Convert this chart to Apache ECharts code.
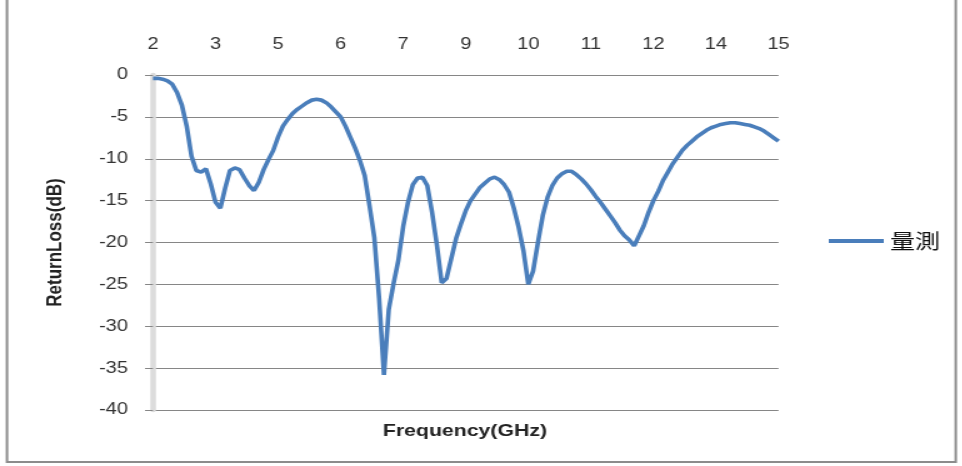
<!DOCTYPE html>
<html>
<head>
<meta charset="utf-8">
<script src="https://cdn.jsdelivr.net/npm/echarts@6/dist/echarts.min.js"></script>
<style>
html,body{margin:0;padding:0;background:#fff;overflow:hidden;width:962px;height:466px;}
#chart{width:769.6px;height:466px;transform:scaleX(1.25);transform-origin:0 0;}
</style>
</head>
<body>
<div id="chart"></div>
<script>
// Frequency categories (GHz)
var frequencies = ['2.0','2.1','2.2','2.3','2.4','2.5','2.6','2.7','2.8','2.9',
'3.0','3.1','3.2','3.3','3.4','3.5','3.6','3.7','3.8','3.9',
'4.0','4.1','4.2','4.3','4.4','4.5','4.6','4.7','4.8','4.9',
'5.0','5.1','5.2','5.3','5.4','5.5','5.6','5.7','5.8','5.9',
'6.0','6.1','6.2','6.3','6.4','6.5','6.6','6.7','6.8','6.9',
'7.0','7.1','7.2','7.3','7.4','7.5','7.6','7.7','7.8','7.9',
'8.0','8.1','8.2','8.3','8.4','8.5','8.6','8.7','8.8','8.9',
'9.0','9.1','9.2','9.3','9.4','9.5','9.6','9.7','9.8','9.9',
'10.0','10.1','10.2','10.3','10.4','10.5','10.6','10.7','10.8','10.9',
'11.0','11.1','11.2','11.3','11.4','11.5','11.6','11.7','11.8','11.9',
'12.0','12.1','12.2','12.3','12.4','12.5','12.6','12.7','12.8','12.9',
'13.0','13.1','13.2','13.3','13.4','13.5','13.6','13.7','13.8','13.9',
'14.0','14.1','14.2','14.3','14.4','14.5','14.6','14.7','14.8','14.9',
'15.0'];

// Measured return loss (dB)
var returnLoss = [-0.4,-0.4,-0.5,-0.7,-1.1,-2.1,-3.6,-6.1,-9.7,-11.4,
-11.6,-11.2,-13.0,-15.2,-15.9,-13.5,-11.4,-11.1,-11.3,-12.3,
-13.2,-13.8,-12.8,-11.3,-10.1,-9.0,-7.4,-6.1,-5.3,-4.6,
-4.1,-3.7,-3.3,-3.0,-2.9,-3.0,-3.3,-3.8,-4.4,-5.0,
-6.1,-7.4,-8.7,-10.2,-12.0,-15.6,-19.4,-26.7,-35.8,-28.0,
-24.9,-22.1,-18.1,-15.2,-13.1,-12.3,-12.2,-13.2,-16.4,-20.3,
-24.8,-24.3,-21.9,-19.5,-17.8,-16.2,-15.0,-14.2,-13.4,-12.9,
-12.4,-12.2,-12.5,-13.1,-14.0,-15.9,-18.2,-21.0,-25.0,-23.4,
-20.0,-16.8,-14.6,-13.2,-12.3,-11.8,-11.5,-11.5,-11.9,-12.4,
-13.0,-13.7,-14.5,-15.2,-16.0,-16.8,-17.6,-18.5,-19.2,-19.7,
-20.4,-19.2,-18.0,-16.4,-15.0,-13.9,-12.6,-11.6,-10.6,-9.8,
-9.0,-8.4,-7.9,-7.4,-7.0,-6.6,-6.3,-6.1,-5.9,-5.8,
-5.7,-5.7,-5.8,-5.9,-6.0,-6.2,-6.4,-6.7,-7.1,-7.5,
-7.9];

// Tick labels shown on the top category axis (every 13th category)
var xTickLabels = ['2','3','5','6','7','9','10','11','12','14','15'];
var seriesName = '量測';
var yAxisTitle = 'ReturnLoss(dB)';
var xAxisTitle = 'Frequency(GHz)';

var chart = echarts.init(document.getElementById('chart'), null, {renderer:'canvas'});
var FONT = '"Liberation Sans", Arial, sans-serif';
chart.setOption({
  animation:false,
  backgroundColor:'#fff',
  grid:{left:122.4, right:147.2, top:75, bottom:56},
  legend:{
    data:[seriesName],
    left:658, top:226,
    icon:'rect', itemWidth:44, itemHeight:4,
    textStyle:{fontFamily:'"Noto Sans CJK TC", sans-serif', fontSize:20, color:'#111'}
  },
  xAxis:{
    type:'category', position:'top', boundaryGap:false, data:frequencies,
    axisLine:{show:false}, axisTick:{show:false},
    axisLabel:{interval:12, margin:22, fontFamily:FONT, fontSize:16, color:'#333',
      formatter:function(v, i){ return xTickLabels[Math.round(i/13)]; }},
    splitLine:{show:false}
  },
  yAxis:{
    type:'value', min:-40, max:0, interval:5,
    name:yAxisTitle, nameLocation:'middle', nameRotate:90, nameGap:70,
    nameTextStyle:{fontFamily:FONT, fontSize:17, fontWeight:'bold', color:'#222'},
    axisLine:{show:true, lineStyle:{color:'#dcdcdc', width:4.5}},
    axisTick:{show:true, length:6.4, lineStyle:{color:'#868686', width:1}},
    axisLabel:{margin:20, fontFamily:FONT, fontSize:16, color:'#333'},
    splitLine:{show:true, lineStyle:{color:'#868686', width:1}}
  },
  graphic:[
    {type:'rect', shape:{x:5.6, y:-4, width:759, height:466}, style:{fill:'none', stroke:'#8c8c8c', lineWidth:2}, silent:true},
    {type:'text', x:372, y:431, style:{text:xAxisTitle, fontFamily:FONT, fontSize:17, fontWeight:'bold', fill:'#222', textAlign:'center', textVerticalAlign:'middle'}}
  ],
  series:[{
    name:seriesName, type:'line', data:returnLoss,
    showSymbol:false, symbol:'none', smooth:false,
    lineStyle:{color:'#4a7ebb', width:3.6},
    itemStyle:{color:'#4a7ebb'}
  }]
});
</script>
</body>
</html>
